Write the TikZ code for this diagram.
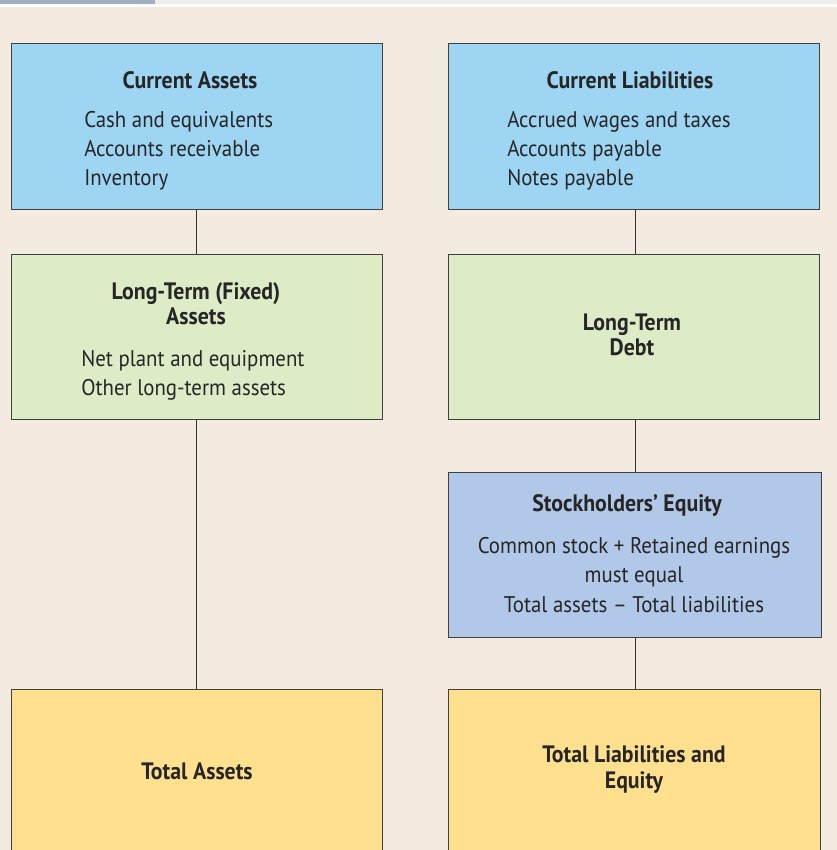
\documentclass[tikz,border=0pt]{standalone}
\usepackage{fontspec}
\setmainfont{PT Sans}
\newfontfamily\narrowfont[FakeStretch=0.92,Ligatures=TeX]{PT Sans}
\begin{document}
\begin{tikzpicture}[x=0.75pt,y=-0.75pt,
  box/.style={draw=black!75, line width=0.9pt, inner sep=0pt, anchor=north west},
  conn/.style={draw=black!80, line width=0.75pt},
  ttl/.style={font=\narrowfont\fontsize{17.8}{19}\selectfont\bfseries, align=center, inner sep=0pt, text=black!85},
  bdy/.style={font=\narrowfont\fontsize{17}{21.8}\selectfont, inner sep=0pt, text=black!85},
]
\definecolor{bg}{RGB}{243,235,224}
\definecolor{cablue}{RGB}{157,213,243}
\definecolor{ltgreen}{RGB}{221,235,198}
\definecolor{seblue}{RGB}{177,200,232}
\definecolor{totyel}{RGB}{255,224,143}
\definecolor{strip}{RGB}{238,238,238}
\definecolor{stripblue}{RGB}{160,176,192}
\useasboundingbox (0,0) rectangle (837,850);
\clip (0,0) rectangle (837,850);
\fill[bg] (0,0) rectangle (837,850);
\fill[white] (0,0) rectangle (837,7);
\fill[strip] (0,0) rectangle (837,4);
\fill[stripblue] (0,0) rectangle (155,4);

\node[box, fill=cablue, minimum width=371*0.75pt, minimum height=166*0.75pt] (ca) at (11,43) {};
\node[box, fill=cablue, minimum width=371*0.75pt, minimum height=166*0.75pt] (cl) at (448,43) {};
\node[box, fill=ltgreen, minimum width=371*0.75pt, minimum height=165*0.75pt] (lta) at (11,254) {};
\node[box, fill=ltgreen, minimum width=371*0.75pt, minimum height=165*0.75pt] (ltd) at (448,254) {};
\node[box, fill=seblue, minimum width=373*0.75pt, minimum height=165*0.75pt] (se) at (448,472) {};
\node[box, fill=totyel, minimum width=371*0.75pt, minimum height=200*0.75pt] (ta) at (11,689) {};
\node[box, fill=totyel, minimum width=372*0.75pt, minimum height=200*0.75pt] (tle) at (448,689) {};

\draw[conn] (ca.south -| 196,0) -- (lta.north -| 196,0);
\draw[conn] (lta.south -| 196,0) -- (ta.north -| 196,0);
\draw[conn] (cl.south -| 635,0) -- (ltd.north -| 635,0);
\draw[conn] (ltd.south -| 635,0) -- (se.north -| 635,0);
\draw[conn] (se.south -| 635,0) -- (tle.north -| 635,0);

\node[ttl] (cat) at (190,80) {Current Assets};
\node[bdy, anchor=west, align=left] (cab) at (84,151) {Cash and equivalents\\Accounts receivable\\Inventory};
\node[ttl] (clt) at (630,80) {Current Liabilities};
\node[bdy, anchor=west, align=left] (clb) at (507,150.5) {Accrued wages and taxes\\Accounts payable\\Notes payable};
\node[ttl] (ltat) at (196,304) {Long-Term (Fixed)\\Assets};
\node[bdy, anchor=west, align=left] (ltab) at (81,375) {Net plant and equipment\\Other long-term assets};
\node[ttl] (ltdt) at (632,335) {Long-Term\\Debt};
\node[ttl] (set) at (627,505) {Stockholders’ Equity};
\node[bdy, align=center] (seb) at (634,575) {Common stock + Retained earnings\\must equal\\Total assets – Total liabilities};
\node[ttl] (tat) at (197,771) {Total Assets};
\node[ttl] (tlet) at (634,769.5) {Total Liabilities and\\Equity};
\end{tikzpicture}
\end{document}
